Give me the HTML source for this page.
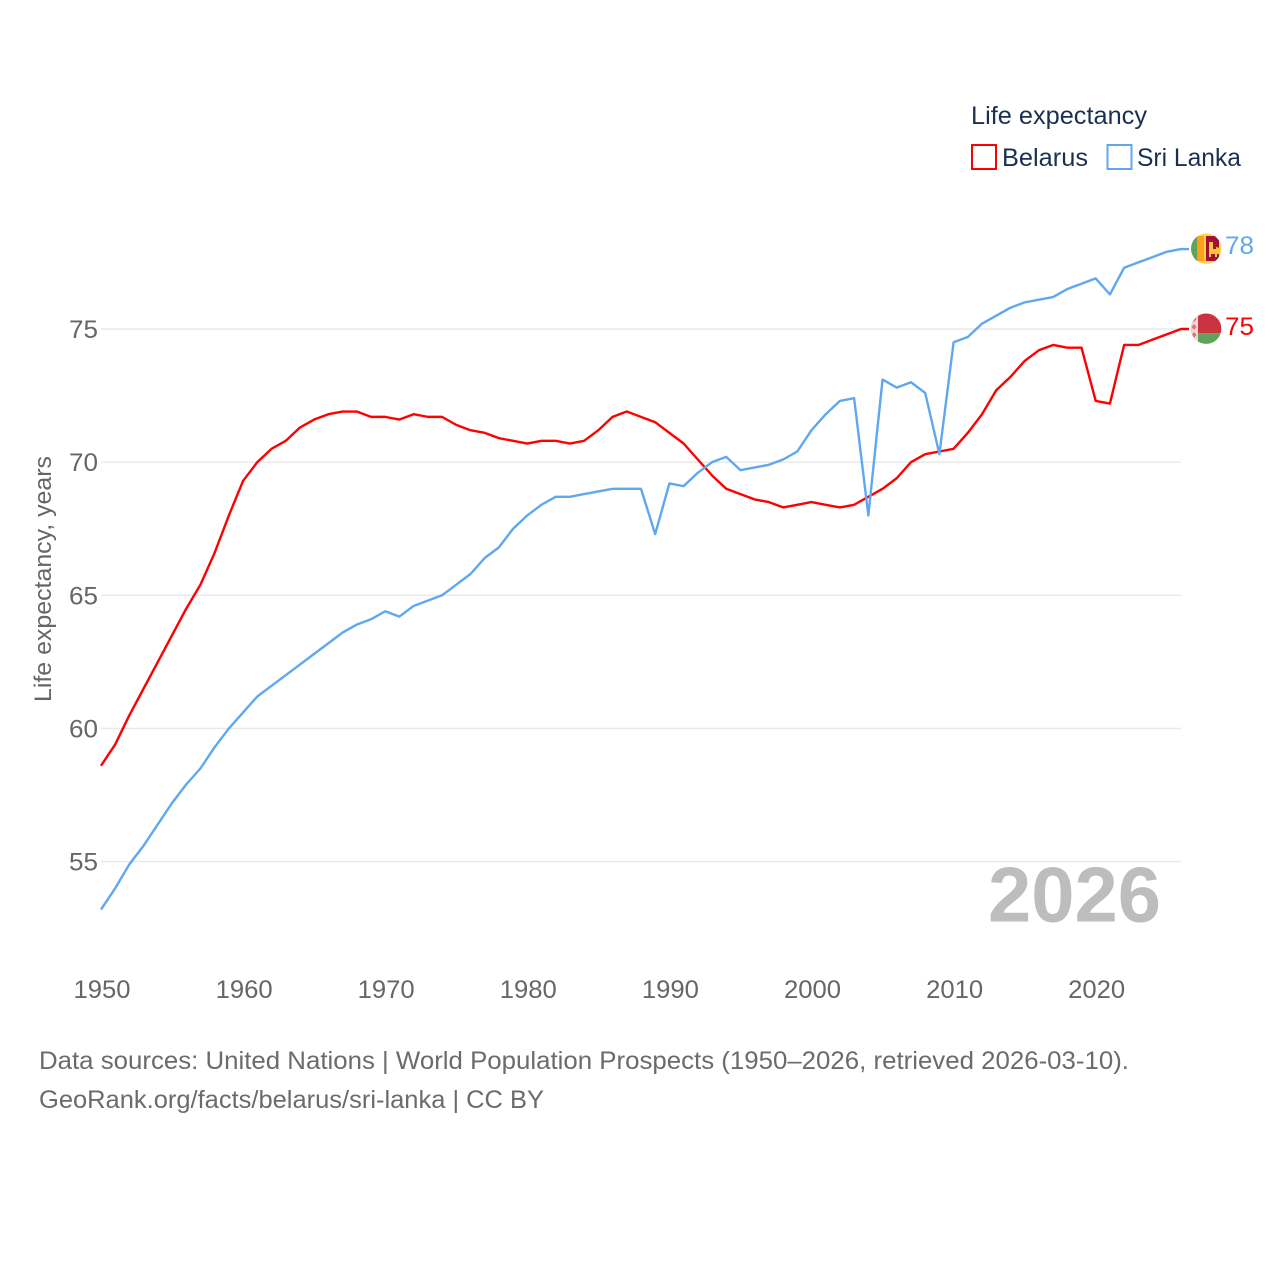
<!DOCTYPE html>
<html>
<head>
<meta charset="utf-8">
<title>Life expectancy: Belarus vs Sri Lanka</title>
<style>
html,body{margin:0;padding:0;background:#fff;width:1280px;height:1280px;overflow:hidden}
svg{display:block}
text{font-family:"Liberation Sans",sans-serif}
</style>
</head>
<body>
<svg id="chart" width="1280" height="1280" viewBox="0 0 1280 1280" xmlns="http://www.w3.org/2000/svg">
  <defs>
    <clipPath id="clip-lk"><circle cx="1206.2" cy="248.7" r="15.2"/></clipPath>
    <clipPath id="clip-by"><circle cx="1206.2" cy="328.7" r="15.2"/></clipPath>
  </defs>
  <g id="grid"></g>
  <g id="yticks"></g>
  <g id="xticks"></g>
  <text transform="translate(51,579) rotate(-90)" text-anchor="middle" font-size="24" fill="#666" textLength="246" lengthAdjust="spacingAndGlyphs">Life expectancy, years</text>
  <text x="988" y="921.500" font-size="78" font-weight="bold" fill="#bdbdbd" textLength="173" lengthAdjust="spacingAndGlyphs">2026</text>
  <g id="series"></g>

  <g clip-path="url(#clip-lk)">
    <rect x="1190" y="232" width="34" height="34" fill="#ffd54f"/>
    <rect x="1190" y="232" width="7.3" height="34" fill="#5da35a"/>
    <rect x="1197.300" y="236" width="6.7" height="25" fill="#ff9f1c"/>
    <rect x="1206" y="236" width="13" height="25" fill="#a50f35"/>
    <path d="M1209 242h4v7h3v-2l4 1v6h-3v3h-2v-3h-4v3h-2z" fill="#f7c63c"/>
  </g>
  <g clip-path="url(#clip-by)">
    <rect x="1190" y="313" width="34" height="20.300" fill="#cc3340"/>
    <rect x="1190" y="333.300" width="34" height="12" fill="#5da35a"/>
    <rect x="1190" y="313" width="8" height="33" fill="#f0d6d6"/>
    <path d="M1194 316l2.500 3-2.500 3-2.500-3zM1194 324l2.500 3-2.500 3-2.500-3zM1194 332l2.500 3-2.500 3-2.500-3zM1196 340l1.500 2-1.500 2-1.500-2z" fill="#d9737c"/>
  </g>
  <text x="1225" y="254" font-size="25" fill="#5fa8f0" textLength="29" lengthAdjust="spacingAndGlyphs">78</text>
  <text x="1225" y="335" font-size="25" fill="#ff0000" textLength="29" lengthAdjust="spacingAndGlyphs">75</text>

  <g>
    <text x="971" y="124" font-size="25" fill="#1a3050" textLength="176" lengthAdjust="spacingAndGlyphs">Life expectancy</text>
    <rect x="972" y="145" width="24" height="24" fill="none" stroke="#ff0000" stroke-width="2"/>
    <text x="1002" y="166" font-size="25" fill="#1a3050" textLength="86" lengthAdjust="spacingAndGlyphs">Belarus</text>
    <rect x="1107.500" y="145" width="24" height="24" fill="none" stroke="#5fa8f0" stroke-width="2"/>
    <text x="1137" y="166" font-size="25" fill="#1a3050" textLength="104" lengthAdjust="spacingAndGlyphs">Sri Lanka</text>
  </g>

  <text x="39" y="1069" font-size="25" fill="#6b6b6b" textLength="1090" lengthAdjust="spacingAndGlyphs">Data sources: United Nations | World Population Prospects (1950–2026, retrieved 2026-03-10).</text>
  <text x="39" y="1108" font-size="25" fill="#6b6b6b" textLength="505" lengthAdjust="spacingAndGlyphs">GeoRank.org/facts/belarus/sri-lanka | CC BY</text>
</svg>
<script>
const startYear = 1950;
const yTickValues = [55, 60, 65, 70, 75];
const xTickYears = [1950, 1960, 1970, 1980, 1990, 2000, 2010, 2020];
const belarusValues = [58.6,59.4,60.5,61.5,62.5,63.5,64.5,65.4,66.6,68.0,69.3,70.0,70.5,70.8,71.3,71.6,71.8,71.9,71.9,71.7,71.7,71.6,71.8,71.7,71.7,71.4,71.2,71.1,70.9,70.8,70.7,70.8,70.8,70.7,70.8,71.2,71.7,71.9,71.7,71.5,71.1,70.7,70.1,69.5,69.0,68.8,68.6,68.5,68.3,68.4,68.5,68.4,68.3,68.4,68.7,69.0,69.4,70.0,70.3,70.4,70.5,71.1,71.8,72.7,73.2,73.8,74.2,74.4,74.3,74.3,72.3,72.2,74.4,74.4,74.6,74.8,75.0];
const sriLankaValues = [53.2,54.0,54.9,55.6,56.4,57.2,57.9,58.5,59.3,60.0,60.6,61.2,61.6,62.0,62.4,62.8,63.2,63.6,63.9,64.1,64.4,64.2,64.6,64.8,65.0,65.4,65.8,66.4,66.8,67.5,68.0,68.4,68.7,68.7,68.8,68.9,69.0,69.0,69.0,67.3,69.2,69.1,69.6,70.0,70.2,69.7,69.8,69.9,70.1,70.4,71.2,71.8,72.3,72.4,68.0,73.1,72.8,73.0,72.6,70.3,74.5,74.7,75.2,75.5,75.8,76.0,76.1,76.2,76.5,76.7,76.9,76.3,77.3,77.5,77.7,77.9,78.0];

const NS = 'http://www.w3.org/2000/svg';
function xScale(year) { return 101 + (year - 1950) * 14.21; }
function yScale(value) { return 329 + (75 - value) * 26.63; }
function pathFor(values) {
  const d = values.map(function (v, i) {
    return (i ? 'L' : 'M') + xScale(startYear + i).toFixed(2) + ' ' + yScale(v).toFixed(2);
  }).join('');
  // Short flat connector from the last data point toward the flag marker.
  return d + 'H1189';
}

const grid = document.getElementById('grid');
const yticks = document.getElementById('yticks');
const xticks = document.getElementById('xticks');
const series = document.getElementById('series');

yTickValues.forEach(function (v) {
  const line = document.createElementNS(NS, 'line');
  
  
  line.setAttribute('x1', 101);
  line.setAttribute('x2', 1181);
  line.setAttribute('y1', yScale(v));
  line.setAttribute('y2', yScale(v));
  line.setAttribute('stroke', '#e8e8e8');
  line.setAttribute('stroke-width', 1.4);
  grid.appendChild(line);

  const t = document.createElementNS(NS, 'text');
  
  
  t.setAttribute('x', 98);
  t.setAttribute('y', yScale(v) + 9);
  t.setAttribute('text-anchor', 'end');
  t.setAttribute('font-size', 25);
  t.setAttribute('fill', '#666');
  t.setAttribute('textLength', 29);
  t.setAttribute('lengthAdjust', 'spacingAndGlyphs');
  t.textContent = String(v);
  yticks.appendChild(t);
});

xTickYears.forEach(function (y) {
  const t = document.createElementNS(NS, 'text');
  
  
  t.setAttribute('x', xScale(y) + 1);
  t.setAttribute('y', 998);
  t.setAttribute('text-anchor', 'middle');
  t.setAttribute('font-size', 25);
  t.setAttribute('fill', '#666');
  t.setAttribute('textLength', 57);
  t.setAttribute('lengthAdjust', 'spacingAndGlyphs');
  t.textContent = String(y);
  xticks.appendChild(t);
});

const belarusLine = document.createElementNS(NS, 'path');


belarusLine.setAttribute('d', pathFor(belarusValues));
belarusLine.setAttribute('fill', 'none');
belarusLine.setAttribute('stroke', '#ff0000');
belarusLine.setAttribute('stroke-width', 2.4);
belarusLine.setAttribute('stroke-linejoin', 'round');
series.appendChild(belarusLine);

const sriLankaLine = document.createElementNS(NS, 'path');


sriLankaLine.setAttribute('d', pathFor(sriLankaValues));
sriLankaLine.setAttribute('fill', 'none');
sriLankaLine.setAttribute('stroke', '#5fa8f0');
sriLankaLine.setAttribute('stroke-width', 2.4);
sriLankaLine.setAttribute('stroke-linejoin', 'round');
series.appendChild(sriLankaLine);
</script>
</body>
</html>
